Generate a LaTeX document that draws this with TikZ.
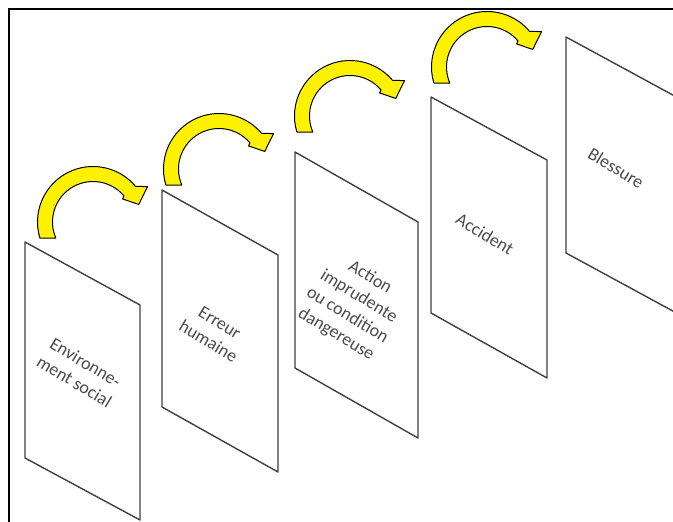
\documentclass[tikz,border=0pt]{standalone}
\usepackage{fontspec}
\setmainfont{Carlito}
\begin{document}
\begin{tikzpicture}[x=1pt,y=1pt,
  panel/.style={draw=black!75, line width=1.4pt, fill=white, line join=round},
  lbl/.style={font=\fontsize{18}{22}\selectfont, text=black!70, align=center, rotate=-31, inner sep=0pt},
  frameline/.style={line width=2pt, black},
  arrowshape/.style={fill=yellow, draw=black, line width=1pt, line join=round},
  curvarrow/.pic={
    \filldraw[arrowshape] ([shift={(46,16)}]196.8:55.5) arc[start angle=196.8, end angle=40, radius=55.5]
      -- ([shift={(46,16)}]33:65) -- ([shift={(46,16)}]21:49) -- ([shift={(46,16)}]38:37.5)
      -- ([shift={(46,16)}]40:40.5) arc[start angle=40, end angle=203.3, radius=40.5] -- cycle;
  }
]
\useasboundingbox (0,0) rectangle (673,-522);
\fill[white] (0,0) rectangle (673,-522);

% panels
\draw[panel] (25,-242) coordinate (p1) -- (140,-305) -- (140,-520) -- (25,-458) -- cycle;
\draw[panel] (162,-190) coordinate (p2) -- (278,-255) -- (278,-472) -- (162,-407) -- cycle;
\draw[panel] (295,-152) coordinate (p3) -- (418,-222) -- (418,-438) -- (295,-368) -- cycle;
\draw[panel] (431,-97) coordinate (p4) -- (547,-160) -- (547,-378) -- (431,-313) -- cycle;
\begin{scope}
\clip (0,0) rectangle (673,-522);
\draw[panel] (566,-37) coordinate (p5) -- (682,-100) -- (682,-316) -- (566,-253) -- cycle;
\end{scope}

% labels
\node[lbl] (t1) at (80,-372) {Environne-\\ment social};
\node[lbl] (t2) at (214,-332) {Erreur\\humaine};
\node[lbl] (t3) at (353,-306) {Action\\imprudente\\ou condition\\dangereuse};
\node[lbl] (t4) at (485,-234) {Accident};
\node[lbl] (t5) at (616,-168) {Blessure};

% arrows
\pic (a1) at (47,-238) {curvarrow};
\pic (a2) at (173,-185) {curvarrow};
\pic (a3) at (304,-132) {curvarrow};
\pic (a4) at (441,-83) {curvarrow};

% frame
\draw[frameline] (9,-522) -- (9,-9) -- (673,-9);
\end{tikzpicture}
\end{document}
